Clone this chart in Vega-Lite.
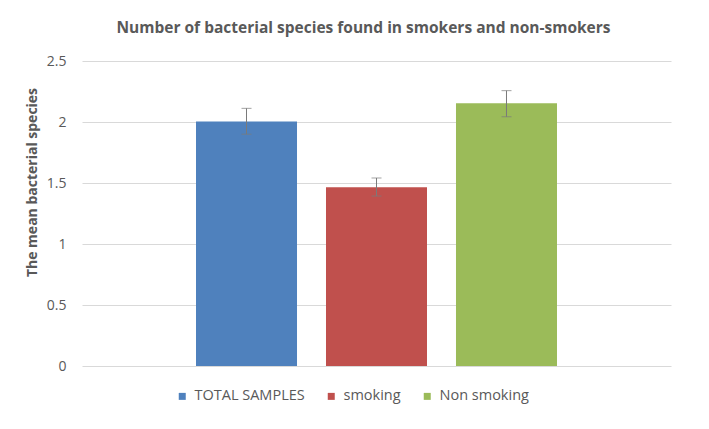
{
  "$schema": "https://vega.github.io/schema/vega-lite/v6.json",
  "width": 589,
  "height": 305,
  "autosize": {"type": "none"},
  "padding": {"left": 82, "top": 61, "right": 38, "bottom": 63},
  "background": "white",
  "title": {
    "text": "Number of bacterial species found in smokers and non-smokers",
    "font": "Open Sans",
    "fontSize": 15.5,
    "fontWeight": "bold",
    "color": "#595959",
    "anchor": "middle",
    "dx": -13,
    "offset": 18
  },
  "data": {
    "values": [
      {"group": "TOTAL SAMPLES", "mean": 2.005, "lower": 1.9, "upper": 2.112},
      {"group": "smoking", "mean": 1.465, "lower": 1.393, "upper": 1.541},
      {"group": "Non smoking", "mean": 2.153, "lower": 2.043, "upper": 2.257}
    ]
  },
  "encoding": {
    "x": {
      "field": "group",
      "type": "nominal",
      "sort": ["TOTAL SAMPLES", "smoking", "Non smoking"],
      "scale": {"paddingInner": 0.223, "paddingOuter": 0.877},
      "axis": null
    },
    "y": {
      "type": "quantitative",
      "scale": {"domain": [0, 2.5], "nice": false, "zero": true, "padding": 0},
      "axis": {
        "title": "The mean bacterial species",
        "values": [0, 0.5, 1, 1.5, 2, 2.5],
        "format": "~g",
        "titleFont": "Open Sans",
        "titleFontSize": 14,
        "titleFontWeight": "bold",
        "titleColor": "#595959",
        "titleX": -43,
        "titleY": 121,
        "labelFont": "Open Sans",
        "labelFontSize": 14,
        "labelColor": "#595959",
        "labelPadding": 16,
        "ticks": false,
        "domain": false,
        "grid": true,
        "gridColor": "#d9d9d9",
        "gridWidth": 1
      }
    }
  },
  "layer": [
    {
      "mark": {"type": "bar"},
      "encoding": {
        "y": {"field": "mean"},
        "color": {
          "field": "group",
          "type": "nominal",
          "sort": ["TOTAL SAMPLES", "smoking", "Non smoking"],
          "scale": {
            "domain": ["TOTAL SAMPLES", "smoking", "Non smoking"],
            "range": ["#4f81bd", "#c0504d", "#9bbb59"]
          },
          "legend": {
            "title": null,
            "orient": "none",
            "direction": "horizontal",
            "legendX": 93,
            "legendY": 328,
            "symbolType": "square",
            "symbolSize": 49,
            "symbolStrokeWidth": 0,
            "labelFont": "Open Sans",
            "labelFontSize": 14.5,
            "labelColor": "#595959",
            "labelOffset": 5,
            "columnPadding": 19
          }
        }
      }
    },
    {
      "mark": {"type": "rule", "color": "#7a7a7a", "strokeWidth": 1},
      "encoding": {
        "y": {"field": "lower"},
        "y2": {"field": "upper"}
      }
    },
    {
      "mark": {"type": "tick", "color": "#7a7a7a", "thickness": 1, "size": 10},
      "encoding": {
        "y": {"field": "lower"}
      }
    },
    {
      "mark": {"type": "tick", "color": "#7a7a7a", "thickness": 1, "size": 10},
      "encoding": {
        "y": {"field": "upper"}
      }
    }
  ],
  "config": {
    "view": {"stroke": null}
  }
}
